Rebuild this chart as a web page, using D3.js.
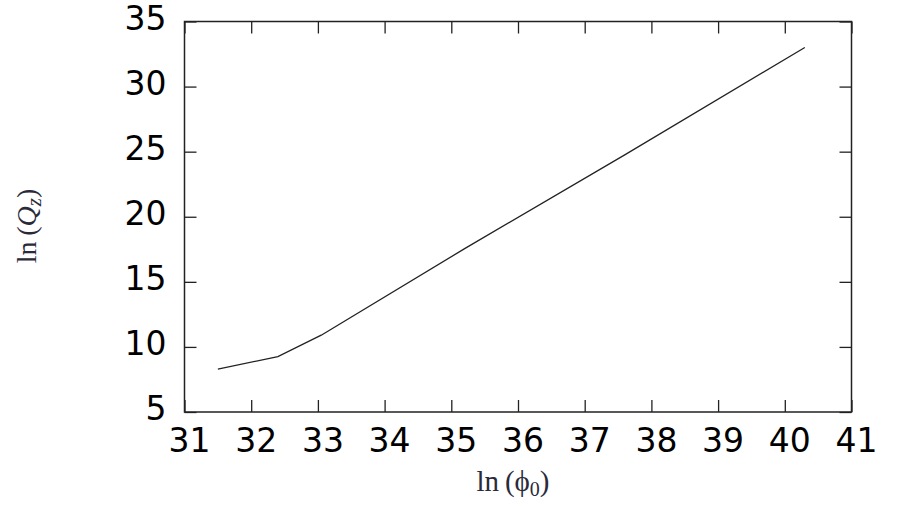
<!DOCTYPE html>
<html>
<head>
<meta charset="utf-8">
<script src="https://cdn.jsdelivr.net/npm/d3@7/dist/d3.min.js"></script>
<style>
  html, body { margin: 0; padding: 0; background: #fff; }
  svg { display: block; }
</style>
</head>
<body>
<svg id="chart" width="897" height="505"></svg>
<script>
// Data
const lnPhi0 = [31.5, 32.4, 33.05, 35.2, 37.6, 40.3];
const lnQz   = [8.3, 9.25, 10.9, 17.55, 24.75, 33.0];
const xTicks = [31, 32, 33, 34, 35, 36, 37, 38, 39, 40, 41];
const yTicks = [5, 10, 15, 20, 25, 30, 35];

(function () {
const svg = d3.select("#chart");
const pL = 184.5, pR = 851.5, pT = 21.5, pB = 412;

const x = d3.scaleLinear().domain([31, 41]).range([pL, pR]);
const y = d3.scaleLinear().domain([5, 35]).range([pB, pT]);

const tickFont = "'DejaVu Sans', sans-serif";
const tickSize = 33;
const ink = "#222";

function styleAxis(g, showText) {
  g.select(".domain").remove();
  g.selectAll(".tick line").attr("stroke", ink).attr("stroke-width", 1.3);
  if (!showText) g.selectAll(".tick text").remove();
  else g.selectAll(".tick text")
        .attr("fill", "#000")
        .style("font-family", tickFont)
        .style("font-size", tickSize + "px");
}

svg.append("g").attr("transform", `translate(0,${pB})`)
  .call(d3.axisBottom(x).tickValues(xTicks).tickSize(-12).tickPadding(17).tickFormat(d3.format("d")))
  .call(g => styleAxis(g, true))
  .call(g => g.selectAll(".tick text").attr("dx", 4.5));

svg.append("g").attr("transform", `translate(0,${pT})`)
  .call(d3.axisTop(x).tickValues(xTicks).tickSize(-12))
  .call(g => styleAxis(g, false));

svg.append("g").attr("transform", `translate(${pL},0)`)
  .call(d3.axisLeft(y).tickValues(yTicks).tickSize(-12).tickPadding(18).tickFormat(d3.format("d")))
  .call(g => styleAxis(g, true))
  .call(g => g.selectAll(".tick text").attr("dy", "0.24em"));

svg.append("g").attr("transform", `translate(${pR},0)`)
  .call(d3.axisRight(y).tickValues(yTicks).tickSize(-12))
  .call(g => styleAxis(g, false));

svg.append("rect")
  .attr("x", pL).attr("y", pT)
  .attr("width", pR - pL).attr("height", pB - pT)
  .attr("fill", "none").attr("stroke", ink).attr("stroke-width", 1.5);

const pts = lnPhi0.map((v, i) => [v, lnQz[i]]);
svg.append("path")
  .datum(pts)
  .attr("fill", "none")
  .attr("stroke", ink)
  .attr("stroke-width", 1.3)
  .attr("d", d3.line().x(d => x(d[0])).y(d => y(d[1])));

const serif = "'Liberation Serif', 'DejaVu Serif', serif";
const xt = svg.append("text")
  .attr("x", 513).attr("y", 491)
  .attr("text-anchor", "middle")
  .attr("fill", "#2a2a3a")
  .style("font-family", serif)
  .style("font-size", "29px");
xt.append("tspan").text("ln\u2009(\u03d5");
xt.append("tspan").attr("font-size", "20px").attr("dy", 5).text("0");
xt.append("tspan").attr("dy", -5).text(")");

const yt = svg.append("text")
  .attr("transform", "translate(36,226) rotate(-90)")
  .attr("text-anchor", "middle")
  .attr("fill", "#2a2a3a")
  .style("font-family", serif)
  .style("font-size", "28px");
yt.append("tspan").text("ln\u2009(");
yt.append("tspan").attr("font-style", "italic").text("Q");
yt.append("tspan").attr("font-style", "italic").attr("font-size", "21px").attr("dy", 5).text("z");
yt.append("tspan").attr("dy", -5).text(")");
})();
</script>
</body>
</html>
